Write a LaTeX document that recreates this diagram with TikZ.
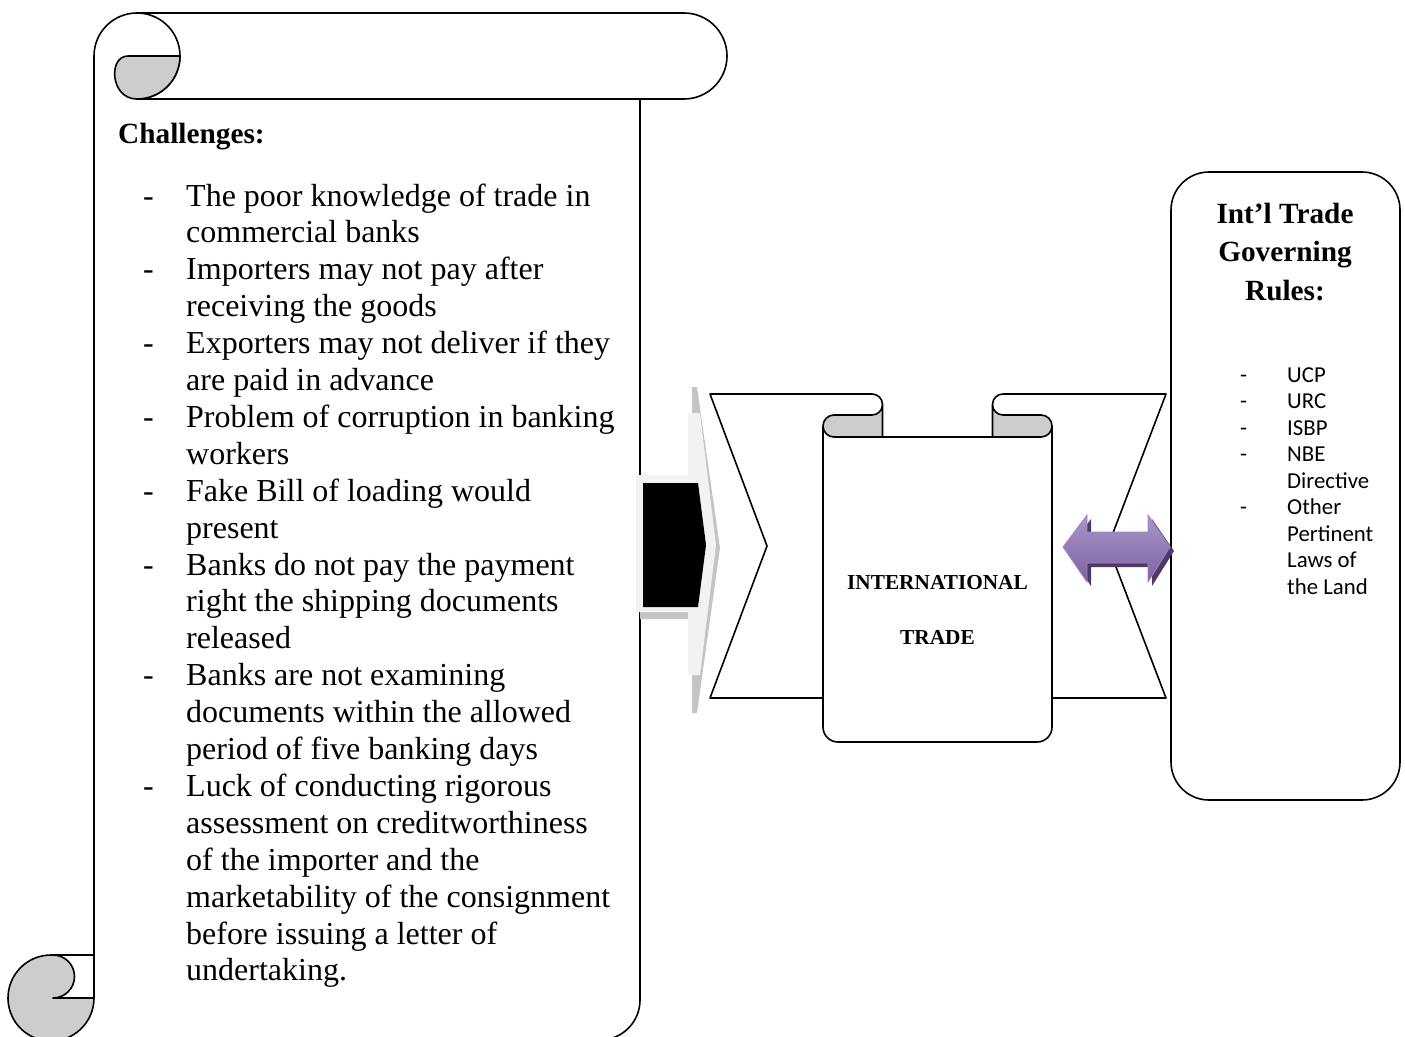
\documentclass[tikz,border=0pt]{standalone}
\usepackage{fontspec}
\setmainfont{Liberation Serif}
\newfontfamily\calib{Carlito}
\definecolor{curlgray}{HTML}{CDCDCD}
\definecolor{pmain}{HTML}{7E62A1}
\definecolor{plight}{HTML}{A896C9}
\definecolor{pdark}{HTML}{4E3A68}
\definecolor{pedge}{HTML}{9B86BF}
\definecolor{arrlight}{HTML}{F2F2F2}
\definecolor{arrshadow}{HTML}{C4C4C4}
\tikzset{
  ln/.style={line width=1.6pt, line join=round},
  itemtext/.style={anchor=base west, inner sep=0pt, font=\fontsize{32}{36.9}\selectfont},
  titletext/.style={inner sep=0pt, font=\fontsize{29.3}{38.5}\selectfont\bfseries},
  ctrtext/.style={anchor=base, inner sep=0pt, font=\fontsize{21.3}{25}\selectfont\bfseries},
  rtext/.style={anchor=base west, inner sep=0pt, font=\calib\fontsize{22.8}{26.5}\selectfont},
}
\begin{document}
\begin{tikzpicture}[x=1pt,y=-1pt]
\useasboundingbox (0,0) rectangle (1405,1036);
\clip (0,0) rectangle (1405,1036);
\fill[white] (0,0) rectangle (1405,1036);

% ---------- left scroll ----------
\draw[ln] (94,56) -- (94,998);
\draw[ln] (640,99) -- (640,1000) arc[start angle=0,end angle=90,radius=40] -- (51,1041);
\draw[ln,fill=white] (137,13) -- (684,13) arc[start angle=-90,end angle=90,radius=43]
  -- (137,99) arc[start angle=90,end angle=-180,radius=43];
\draw[ln,fill=curlgray] (128,56) -- (180,56) arc[start angle=0,end angle=90,radius=43]
  .. controls (110,99) and (108,56) .. (128,56) -- cycle;
\draw[ln,fill=curlgray] (51,955) arc[start angle=-90,end angle=-360,radius=43]
  -- (53,998) arc[start angle=90,end angle=-90,radius=21.5] -- cycle;
\draw[ln] (51,955) -- (94,955);

\node[titletext,anchor=base west] (chal) at (118,143) {Challenges:};

\foreach \txt [count=\i] in {
  The poor knowledge of trade in,
  commercial banks,
  Importers may not pay after,
  receiving the goods,
  Exporters may not deliver if they,
  are paid in advance,
  Problem of corruption in banking,
  workers,
  Fake Bill of loading would,
  present,
  Banks do not pay the payment,
  right the shipping documents,
  released,
  Banks are not examining,
  documents within the allowed,
  period of five banking days,
  Luck of conducting rigorous,
  assessment on creditworthiness,
  of the importer and the,
  marketability of the consignment,
  before issuing a letter of,
  undertaking.}{
  \node[itemtext] (l\i) at (186,{206+(\i-1)*36.9}) {\txt};
}
\foreach \i in {1,3,5,7,9,11,14,17}{
  \node[itemtext] (d\i) at (143,{206+(\i-1)*36.9}) {-};
}

% ---------- central bow-tie band ----------
\fill[white] (710,394) -- (1166,394) -- (1108,546) -- (1166,698) -- (710,698) -- (767,546) -- cycle;
\draw[ln] (872,394) -- (710,394) -- (767,546) -- (710,698) -- (823,698);
\draw[ln] (1003,394) -- (1166,394) -- (1108,546) -- (1166,698) -- (1052,698);

% ---------- central vertical scroll ----------
\draw[ln,fill=white] (823,426) -- (823,727) arc[start angle=180,end angle=90,radius=15]
  -- (1037,742) arc[start angle=90,end angle=0,radius=15] -- (1052,426);
\draw[ln] (834,437) -- (1041,437);
\draw[ln] (872,394) arc[start angle=-90,end angle=0,radius=10.5];
\draw[ln,fill=curlgray] (882.5,404.5) -- (882.5,437) -- (834,437)
  arc[start angle=90,end angle=270,radius=11] -- (872,415)
  arc[start angle=90,end angle=0,radius=10.5] -- cycle;
\draw[ln] (1003,394) arc[start angle=-90,end angle=-180,radius=10.5];
\draw[ln,fill=curlgray] (992.5,404.5) -- (992.5,437) -- (1041,437)
  arc[start angle=90,end angle=-90,radius=11] -- (1003,415)
  arc[start angle=90,end angle=180,radius=10.5] -- cycle;

\node[ctrtext] (intl) at (937.5,589) {INTERNATIONAL};
\node[ctrtext] (trade) at (937.5,644) {TRADE};

% ---------- block arrow ----------
\fill[arrshadow] (640,481) -- (692,481) -- (692,387) -- (697,387) -- (720,548) -- (697,713)
  -- (692,713) -- (692,619) -- (640,619) -- cycle;
\fill[arrlight] (636,475) -- (688,475) -- (688,413) -- (700,413) -- (716,545) -- (700,675)
  -- (688,675) -- (688,612) -- (636,612) -- cycle;
\fill[black] (643,483) -- (698,483) -- (706,545) -- (698,607) -- (643,607) -- cycle;

% ---------- right box ----------
\draw[ln,rounded corners=38] (1171,172) rectangle (1400,800);
\node[titletext,anchor=base] (r1) at (1285,223) {Int’l Trade};
\node[titletext,anchor=base] (r2) at (1285,261.5) {Governing};
\node[titletext,anchor=base] (r3) at (1285,300) {Rules:};
\foreach \txt [count=\i] in {UCP,URC,ISBP,NBE,Directive,Other,Pertinent,Laws of,the Land}{
  \node[rtext] (rl\i) at (1287,{382+(\i-1)*26.5}) {\txt};
}
\foreach \i in {1,2,3,4,6}{
  \node[rtext] (rd\i) at (1240,{382+(\i-1)*26.5}) {-};
}

% ---------- double arrow ----------
\fill[pdark] (1067,551) -- (1091,519) -- (1091,536) -- (1152,536) -- (1152,519) -- (1174,551)
  -- (1152,586) -- (1152,567) -- (1091,567) -- (1091,586) -- cycle;
\draw[draw=pedge,line width=0.8pt,top color=plight,bottom color=pmain]
  (1063,547) -- (1087,515) -- (1087,532) -- (1148,532) -- (1148,515) -- (1170,547)
  -- (1148,582) -- (1148,563) -- (1087,563) -- (1087,582) -- cycle;
\end{tikzpicture}
\end{document}
